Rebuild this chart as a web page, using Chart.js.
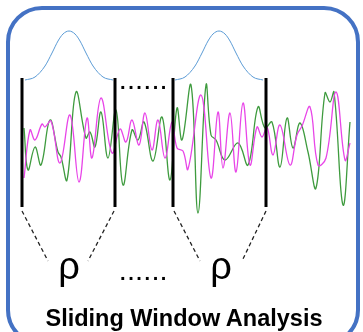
<!DOCTYPE html>
<html>
<head>
<meta charset="utf-8">
<script src="https://cdn.jsdelivr.net/npm/chart.js@4.4.1/dist/chart.umd.min.js"></script>
<style>
  html, body { margin: 0; padding: 0; background: #fff; }
  #wrap { position: relative; width: 363px; height: 332px; overflow: hidden; background: #fff; }
  #frame { position: absolute; left: 6px; top: 6px; width: 346px; height: 332px;
           border: 4px solid #4472C4; border-radius: 36px; box-sizing: content-box; }
  canvas { position: absolute; left: 0; top: 0; }
  .lbl { position: absolute; font-family: "Liberation Sans", Arial, sans-serif; line-height: 1; white-space: nowrap; color: #000; }
  #title { left: 2.5px; width: 363px; top: 307px; font-size: 23.5px; font-weight: bold; text-align: center; }
  .dots { font-size: 20px; font-weight: bold; letter-spacing: 2.6px; left: 120px; }
  #dotsTop { top: 71.6px; }
  #dotsBot { top: 262.6px; }
  .rho { font-size: 38px; width: 50px; text-align: center; top: 247px; }
  #rho1 { left: 44px; }
  #rho2 { left: 196px; }
</style>
</head>
<body>
<div id="wrap">
  <div id="frame"></div>
  <canvas id="c" width="363" height="332"></canvas>
  <div class="lbl dots" id="dotsTop">......</div>
  <div class="lbl dots" id="dotsBot">......</div>
  <div class="lbl rho" id="rho1">ρ</div>
  <div class="lbl rho" id="rho2">ρ</div>
  <div class="lbl" id="title">Sliding Window Analysis</div>
</div>
<script>
// ---- data (time t, amplitude a) ----
const greenT = [2,6,13,19,28,36,39,45,54,64,68,73,79,86,94,101,110,116,122,131,140,148,155,160,169,176,184,189,194,203,216,226,236,243,250,258,265,271,278,286,294,303,308,312,321,328];
const greenA = [22,-20,3,-15,30,-2,-7,-30,58,12,18,3,38,-8,40,-35,20,10,28,-11,33,-30,42,10,65,-63,65,15,10,-10,7,-15,43,22,28,-17,32,2,27,-2,-38,57,48,58,-55,28];

const magentaT = [2,8,13,20,23,29,38,48,57,65,70,79,90,98,104,110,117,123,130,136,143,150,155,161,166,179,189,196,201,208,214,221,228,235,240,245,251,258,268,275,280,288,296,304,314,323,328];
const magentaA = [-28,20,10,26,23,29,-13,35,-32,32,-8,52,-3,21,8,30,5,37,0,30,-8,28,2,-1,-19,55,-28,38,-18,37,-22,47,-15,23,13,23,-5,25,-15,15,24,43,-15,-8,58,-10,7];

const window1T = [3,13,23,30,36,41,47,53,58,64,71,81,91];
const window1A = [70,73,84,97,109,116,119,116,109,97,84,73,70];
const window2T = [153,163,173,180,186,191,197,203,208,214,221,231,241];
const window2A = [70,73,84,97,109,116,119,116,109,97,84,73,70];

const windowEdges = [0, 93, 151, 244];
const edgeTop = 72, edgeBottom = -57;

const connectorFrom = [0, 92, 152, 244];
const connectorTo   = [26, 66, 178, 220];
const connectorTop = -61, connectorBottom = -111;

// ---- build datasets ----
const zip = (ts, as) => ts.map((t, i) => ({x: t, y: as[i]}));
const datasets = [];

windowEdges.forEach(t => datasets.push({
  data: [{x: t, y: edgeTop}, {x: t, y: edgeBottom}],
  borderColor: '#000', borderWidth: 3, pointRadius: 0, tension: 0, borderCapStyle: 'butt'
}));
connectorFrom.forEach((t, i) => datasets.push({
  data: [{x: t, y: connectorTop}, {x: connectorTo[i], y: connectorBottom}],
  borderColor: '#222', borderWidth: 1.3, borderDash: [4, 3], pointRadius: 0, tension: 0
}));
[[window1T, window1A], [window2T, window2A]].forEach(([ts, as]) => datasets.push({
  data: zip(ts, as), borderColor: '#5B9BD5', borderWidth: 1, pointRadius: 0,
  cubicInterpolationMode: 'monotone'
}));
datasets.push({
  data: zip(magentaT, magentaA), borderColor: '#E845E8', borderWidth: 1.3, pointRadius: 0,
  tension: 0.4
});
datasets.push({
  data: zip(greenT, greenA), borderColor: '#3E9B3E', borderWidth: 1.3, pointRadius: 0,
  tension: 0.4
});

new Chart(document.getElementById('c'), {
  type: 'line',
  data: { datasets },
  options: {
    responsive: false,
    animation: false,
    events: [],
    layout: { padding: 0 },
    plugins: { legend: { display: false }, tooltip: { enabled: false } },
    scales: {
      x: { type: 'linear', min: -22, max: 341, display: false },
      y: { type: 'linear', min: -182, max: 150, display: false }
    }
  }
});
</script>
</body>
</html>
